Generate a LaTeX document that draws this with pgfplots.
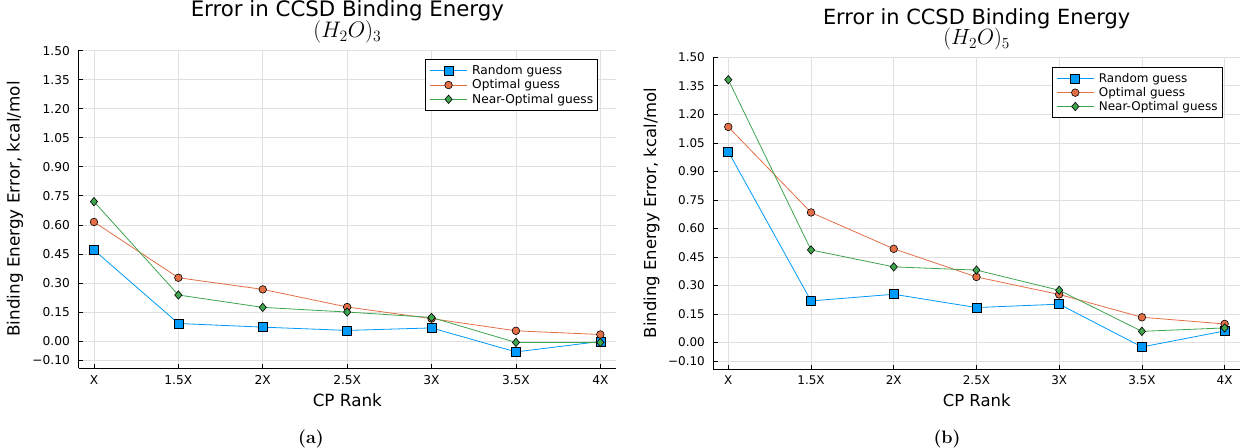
\RequirePackage{fix-cm}
\documentclass[border=0pt]{standalone}
\usepackage{fontspec}
\usepackage{pgfplots}
\pgfplotsset{compat=1.18}
\newfontfamily\dejavu{DejaVu Sans}
\definecolor{cblue}{HTML}{009AFA}
\definecolor{corange}{HTML}{E36F47}
\definecolor{cgreen}{HTML}{3EA44E}
\pgfplotsset{
  juliastyle/.style={
    scale only axis,
    axis lines=left,
    axis line style={-, line width=0.9pt, black},
    xmin=-0.181, xmax=6.186, ymin=-0.139, ymax=1.503,
    xtick={0,1,2,3,4,5,6},
    xticklabels={X,1.5X,2X,2.5X,3X,3.5X,4X},
    ytick={-0.10,0,0.15,0.30,0.45,0.60,0.75,0.90,1.05,1.20,1.35,1.50},
    yticklabels={−0.10,0.00,0.15,0.30,0.45,0.60,0.75,0.90,1.05,1.20,1.35,1.50},
    grid=major,
    major grid style={black!12, line width=0.7pt},
    tick align=inside,
    major tick length=4.5pt,
    tick style={black, line width=0.7pt},
    legend cell align=left,
    legend image code/.code={\draw[mark repeat=2,mark phase=2] plot coordinates {(0pt,0pt) (18.5pt,0pt) (37pt,0pt)};},
  },
  rnd/.style={color=cblue, line width=0.8pt, mark=square*, mark size=4.5pt, mark options={fill=cblue, draw=black, line width=0.6pt}},
  opt/.style={color=corange, line width=0.8pt, mark=*, mark size=3.8pt, mark options={fill=corange, draw=black, line width=0.6pt}},
  nopt/.style={color=cgreen, line width=0.8pt, mark=diamond*, mark size=4.2pt, mark options={fill=cgreen, draw=black, line width=0.6pt, xscale=1.15}},
}
\begin{document}
\begin{tikzpicture}
\useasboundingbox (0pt,0pt) rectangle (1241pt,-447pt);
% ---------------- left panel ----------------
\begin{axis}[juliastyle,
  at={(78.7pt,-50pt)}, anchor=north west,
  width=537.3pt, height=318pt,
  title={Error in CCSD Binding Energy},
  title style={font=\dejavu\fontsize{21.3}{24}\selectfont, at={(axis description cs:0.5,1)}, anchor=base, yshift=27.3pt},
  xlabel={CP Rank},
  xlabel style={font=\dejavu\fontsize{16.8}{20}\selectfont, at={(axis description cs:0.5,0)}, anchor=base, yshift=-38.7pt},
  ylabel={Binding Energy Error, kcal/mol},
  ylabel style={font=\dejavu\fontsize{16.8}{20}\selectfont, at={(axis description cs:-0.1186,0.5)}, anchor=center},
  xticklabel style={font=\dejavu\fontsize{12.2}{14}\selectfont, anchor=base, inner sep=0pt, yshift=-16pt},
  yticklabel style={font=\dejavu\fontsize{12.2}{14}\selectfont, anchor=east, inner sep=0pt, xshift=-8.7pt},
  legend style={at={(axis description cs:0.967,0.971)}, anchor=north east, draw=black, line width=0.8pt,
    font=\dejavu\fontsize{12.2}{14}\selectfont, inner xsep=4pt, inner ysep=5pt, row sep=2pt, column sep=4pt,
    nodes={inner sep=0.75pt}},
  extra description/.code={\node[anchor=base, font=\fontsize{22.5}{26}\selectfont] at (axis description cs:0.5,1) [yshift=12.3pt] {$(H_{2}O)_{3}$};},
]
\addplot[rnd] coordinates {(0,0.470) (1,0.091) (2,0.072) (3,0.055) (4,0.068) (5,-0.056) (6,-0.002)};
\addplot[opt] coordinates {(0,0.615) (1,0.327) (2,0.267) (3,0.176) (4,0.116) (5,0.053) (6,0.034)};
\addplot[nopt] coordinates {(0,0.720) (1,0.238) (2,0.174) (3,0.150) (4,0.122) (5,-0.007) (6,-0.007)};
\legend{Random guess, Optimal guess, Near-Optimal guess}
\end{axis}
% ---------------- right panel ----------------
\begin{axis}[juliastyle,
  at={(713.3pt,-56.7pt)}, anchor=north west,
  width=526.7pt, height=312.3pt,
  title={Error in CCSD Binding Energy},
  title style={font=\dejavu\fontsize{20.9}{24}\selectfont, at={(axis description cs:0.5,1)}, anchor=base, yshift=26.5pt},
  xlabel={CP Rank},
  xlabel style={font=\dejavu\fontsize{16.46}{20}\selectfont, at={(axis description cs:0.5,0)}, anchor=base, yshift=-37.7pt},
  ylabel={Binding Energy Error, kcal/mol},
  ylabel style={font=\dejavu\fontsize{16.46}{20}\selectfont, at={(axis description cs:-0.1173,0.5)}, anchor=center},
  xticklabel style={font=\dejavu\fontsize{11.96}{14}\selectfont, anchor=base, inner sep=0pt, yshift=-15.7pt},
  yticklabel style={font=\dejavu\fontsize{11.96}{14}\selectfont, anchor=east, inner sep=0pt, xshift=-8.3pt},
  legend style={at={(axis description cs:0.967,0.966)}, anchor=north east, draw=black, line width=0.8pt,
    font=\dejavu\fontsize{11.96}{14}\selectfont, inner xsep=4pt, inner ysep=5pt, row sep=1.8pt, column sep=4pt,
    nodes={inner sep=0.75pt}},
  extra description/.code={\node[anchor=base, font=\fontsize{22}{26}\selectfont] at (axis description cs:0.5,1) [yshift=12pt] {$(H_{2}O)_{5}$};},
]
\addplot[rnd] coordinates {(0,1.004) (1,0.219) (2,0.254) (3,0.184) (4,0.202) (5,-0.023) (6,0.061)};
\addplot[opt] coordinates {(0,1.134) (1,0.684) (2,0.493) (3,0.345) (4,0.253) (5,0.133) (6,0.098)};
\addplot[nopt] coordinates {(0,1.382) (1,0.487) (2,0.398) (3,0.381) (4,0.275) (5,0.059) (6,0.077)};
\legend{Random guess, Optimal guess, Near-Optimal guess}
\end{axis}
% sub-captions
\node[anchor=base, font=\rmfamily\bfseries\fontsize{18}{21}\selectfont] at (311pt,-443pt) {(a)};
\node[anchor=base, font=\rmfamily\bfseries\fontsize{18}{21}\selectfont] at (947pt,-443pt) {(b)};
\end{tikzpicture}
\end{document}
